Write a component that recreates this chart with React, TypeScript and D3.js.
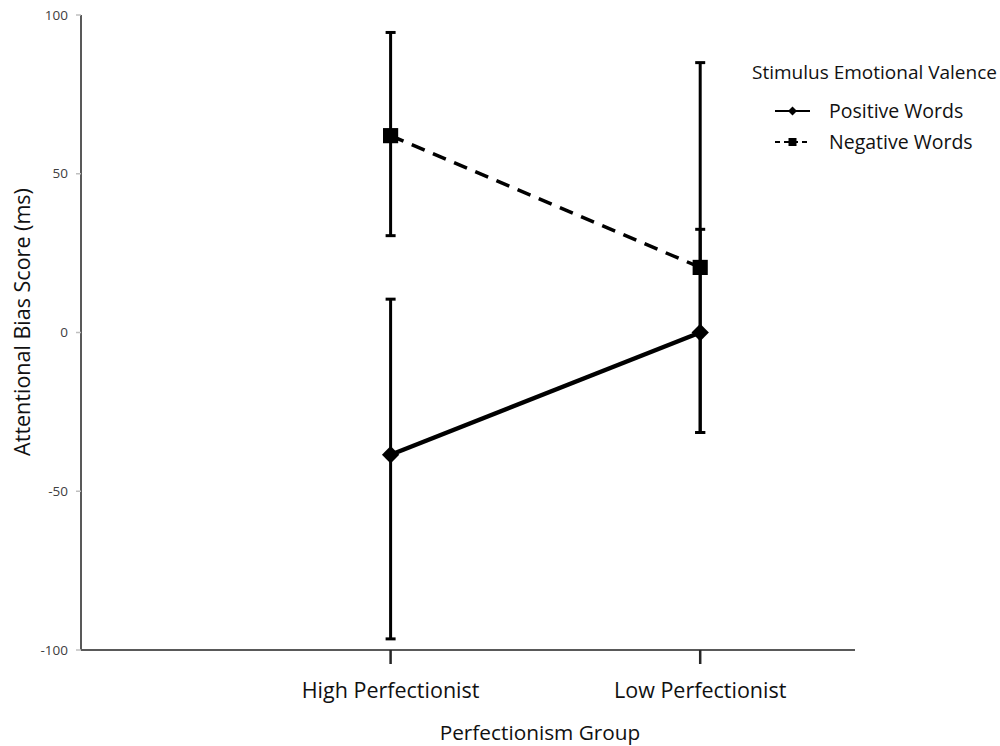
import { useEffect, useRef } from "react";
import * as d3 from "d3";

const groups = ["High Perfectionist", "Low Perfectionist"];
const yTicks = [-100, -50, 0, 50, 100];

const positiveMean = [-38.5, 0];
const positiveLow = [-96.5, -31.5];
const positiveHigh = [10.5, 32.5];

const negativeMean = [62, 20.5];
const negativeLow = [30.5, -31.5];
const negativeHigh = [94.5, 85];

const FONT = "'Open Sans', 'Noto Sans', sans-serif";

export default function App() {
  const svgRef = useRef<SVGSVGElement>(null);

  useEffect(() => {
    const svg = d3.select(svgRef.current);
    svg.selectAll("*").remove();

    // excel-ish category placement: two slots with extra room on the left
    const x = d3.scaleLinear().domain([-1, 1.5]).range([81, 855]);
    const y = d3.scaleLinear().domain([-100, 100]).range([650, 15]);

    const axisColor = "#595959";

    // y axis
    svg.append("line")
      .attr("x1", x(-1)).attr("x2", x(-1))
      .attr("y1", y(100)).attr("y2", y(-100))
      .attr("stroke", axisColor).attr("stroke-width", 2);
    const yt = svg.selectAll(".ytick").data(yTicks).join("g").attr("class", "ytick");
    yt.append("line")
      .attr("x1", x(-1) - 5).attr("x2", x(-1))
      .attr("y1", (d) => y(d)).attr("y2", (d) => y(d))
      .attr("stroke", "#bfbfbf").attr("stroke-width", 1.5);
    yt.append("text")
      .attr("x", 68).attr("y", (d) => y(d))
      .attr("dy", "0.35em")
      .attr("text-anchor", "end")
      .attr("font-family", FONT).attr("font-size", 13.5).attr("fill", "#404040")
      .text((d) => d);

    // x axis
    svg.append("line")
      .attr("x1", x(-1)).attr("x2", x(1.5))
      .attr("y1", y(-100)).attr("y2", y(-100))
      .attr("stroke", axisColor).attr("stroke-width", 2);
    const xt = svg.selectAll(".xtick").data(groups).join("g").attr("class", "xtick");
    xt.append("line")
      .attr("x1", (_, i) => x(i)).attr("x2", (_, i) => x(i))
      .attr("y1", y(-100)).attr("y2", y(-100) + 14)
      .attr("stroke", "#262626").attr("stroke-width", 2.5);
    xt.append("text")
      .attr("x", (_, i) => x(i)).attr("y", 698)
      .attr("text-anchor", "middle")
      .attr("font-family", FONT).attr("font-size", 21.5).attr("fill", "#111")
      .text((d) => d);

    // axis titles
    svg.append("text")
      .attr("x", 540).attr("y", 740)
      .attr("text-anchor", "middle")
      .attr("font-family", FONT).attr("font-size", 20.8).attr("fill", "#111")
      .text("Perfectionism Group");
    svg.append("text")
      .attr("transform", "translate(30,322) rotate(-90)")
      .attr("text-anchor", "middle")
      .attr("font-family", FONT).attr("font-size", 21.5).attr("fill", "#111")
      .text("Attentional Bias Score (ms)");

    // diamonds drawn as squares turned 45deg (excel style)
    const series = [
      { mean: negativeMean, low: negativeLow, high: negativeHigh, dash: "14,9", width: 3.5, rot: 0, size: 230 },
      { mean: positiveMean, low: positiveLow, high: positiveHigh, dash: null, width: 4.5, rot: 45, size: 150 },
    ];

    series.forEach((s) => {
      const g = svg.append("g");
      // error bars
      s.mean.forEach((_, i) => {
        g.append("line")
          .attr("x1", x(i)).attr("x2", x(i))
          .attr("y1", y(s.low[i])).attr("y2", y(s.high[i]))
          .attr("stroke", "#000").attr("stroke-width", 3);
        [s.low[i], s.high[i]].forEach((v) => {
          g.append("line")
            .attr("x1", x(i) - 5).attr("x2", x(i) + 5)
            .attr("y1", y(v)).attr("y2", y(v))
            .attr("stroke", "#000").attr("stroke-width", 3);
        });
      });
      const line = d3.line<number>().x((_, i) => x(i)).y((d) => y(d));
      g.append("path")
        .attr("d", line(s.mean))
        .attr("fill", "none")
        .attr("stroke", "#000")
        .attr("stroke-width", s.width)
        .attr("stroke-dasharray", s.dash);
      g.selectAll(".pt").data(s.mean).join("path")
        .attr("transform", (d, i) => `translate(${x(i)},${y(d)}) rotate(${s.rot})`)
        .attr("d", d3.symbol().type(d3.symbolSquare).size(s.size)())
        .attr("fill", "#000");
    });

    // legend
    const lg = svg.append("g");
    lg.append("text")
      .attr("x", 752).attr("y", 72)
      .attr("dy", "0.35em")
      .attr("font-family", FONT).attr("font-size", 19).attr("fill", "#111")
      .text("Stimulus Emotional Valence");
    const items = [
      { label: "Positive Words", dash: null, rot: 45, size: 40 },
      { label: "Negative Words", dash: "5,4", rot: 0, size: 64 },
    ];
    items.forEach((it, k) => {
      const cy = 111 + k * 31;
      lg.append("line")
        .attr("x1", 775).attr("x2", 810)
        .attr("y1", cy).attr("y2", cy)
        .attr("stroke", "#000").attr("stroke-width", 1.8)
        .attr("stroke-dasharray", it.dash);
      lg.append("path")
        .attr("transform", `translate(792.5,${cy}) rotate(${it.rot})`)
        .attr("d", d3.symbol().type(d3.symbolSquare).size(it.size)())
        .attr("fill", "#000");
      lg.append("text")
        .attr("x", 829).attr("y", cy)
        .attr("dy", "0.35em")
        .attr("font-family", FONT).attr("font-size", 19.5).attr("fill", "#111")
        .text(it.label);
    });
  }, []);

  return (
    <svg
      ref={svgRef}
      width={1000}
      height={746}
      style={{ position: "absolute", left: 0, top: 0, background: "#fff" }}
    />
  );
}
